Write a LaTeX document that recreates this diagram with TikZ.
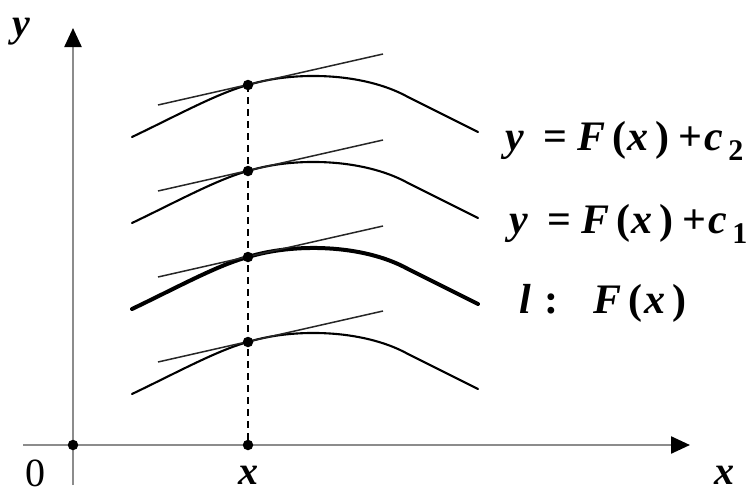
\documentclass[tikz,border=0pt]{standalone}
\usepackage{fontspec}
\setmainfont{Liberation Serif}
\usetikzlibrary{arrows.meta}
\begin{document}
\begin{tikzpicture}[x=1pt,y=-1pt,
  axis/.style={draw=black!45, line width=2.4pt},
  curve/.style={line width=2.1pt, line cap=round},
  maincurve/.style={line width=4pt, line cap=round},
  tangent/.style={line width=1.5pt, draw=black!85},
  dot/.style={circle, fill=black, inner sep=0pt, minimum size=10.5pt},
  lab/.style={anchor=base west, inner sep=0pt, font=\fontsize{42}{46}\selectfont\bfseries},
  axlab/.style={anchor=base west, inner sep=0pt, font=\fontsize{40}{44}\selectfont\bfseries},
  guide/.style={dash pattern=on 7pt off 5pt, line width=1.8pt}
]
\useasboundingbox (0,0) rectangle (747,496);

% axes
\coordinate (ybot) at (73,485);
\coordinate (ytop) at (73,28);
\coordinate (xleft) at (23,445);
\coordinate (xright) at (690,445);
\draw[axis, -{Triangle[length=19pt,width=17pt,color=black]}] (ybot) -- (ytop);
\draw[axis, -{Triangle[length=19pt,width=17pt,color=black]}] (xleft) -- (xright);

% curve points
\coordinate (c1) at (248,85);
\coordinate (c2) at (248,171);
\coordinate (c3) at (248,257);
\coordinate (c4) at (248,342);
\coordinate (c0) at (248,445);
\coordinate (o) at (73,445);

\draw[guide] (c1) -- (c0);

\foreach \p/\s in {c1/curve, c2/curve, c3/maincurve, c4/curve} {
  \draw[\s, shift={(\p)}] (-116,52) .. controls (-70,30) and (-30,8) .. (0,0)
     .. controls (45,-14) and (115,-13) .. (160,12) -- (230,47);
  \draw[tangent, shift={(\p)}] (-90,20) -- (135,-31);
}

% dots
\node[dot] (d0) at (c0) {};
\node[dot] (do) at (o) {};
\node[dot] (d1) at (c1) {};
\node[dot] (d2) at (c2) {};
\node[dot] (d3) at (c3) {};
\node[dot] (d4) at (c4) {};

% labels
\node[lab] (lab1) at (505,150) {\textit{y}\hspace{20pt}=\hspace{10pt}\textit{F}\hspace{7pt}(\hspace{1pt}\textit{x}\hspace{7pt})\hspace{9pt}+\hspace{2pt}\textit{c}\hspace{5pt}\raisebox{-10pt}{\fontsize{30}{30}\selectfont 2}};
\node[lab] (lab2) at (509,233) {\textit{y}\hspace{20pt}=\hspace{10pt}\textit{F}\hspace{7pt}(\hspace{1pt}\textit{x}\hspace{7pt})\hspace{9pt}+\hspace{2pt}\textit{c}\hspace{5pt}\raisebox{-10pt}{\fontsize{30}{30}\selectfont 1}};
\node[lab] (lab3) at (519,313) {\textit{l}\hspace{14pt}:\hspace{35pt}\textit{F}\hspace{7pt}(\hspace{2pt}\textit{x}\hspace{7pt})};

\node[axlab] (ylab) at (12,36) {\textit{y}};
\node[axlab, font=\fontsize{40}{44}\selectfont] (zero) at (25,486) {0};
\node[axlab] (xlab0) at (238,484) {\textit{x}};
\node[axlab] (xlab) at (714,484) {\textit{x}};
\end{tikzpicture}
\end{document}
